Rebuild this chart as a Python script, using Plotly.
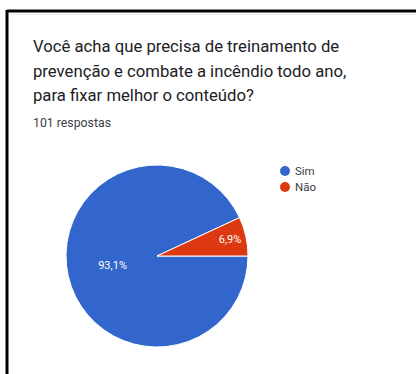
import plotly.graph_objects as go

labels = ["Sim", "Não"]
values = [94, 7]
colors = ["#3366cc", "#dc3912"]
title_lines = [
    "Você acha que precisa de treinamento de",
    "prevenção e combate a incêndio todo ano,",
    "para fixar melhor o conteúdo?",
]
subtitle = "101 respostas"

W, H = 416, 374
cx, cy, r = 157, 256, 91

fig = go.Figure()
fig.add_trace(go.Pie(
    labels=labels, values=values, sort=False, direction="clockwise", rotation=90,
    marker=dict(colors=colors, line=dict(color="white", width=1)),
    texttemplate="%{percent:.1%}", textposition="inside",
    insidetextorientation="horizontal",
    textfont=dict(family="Roboto", size=11, color="white"),
    domain=dict(x=[(cx - r) / W, (cx + r) / W], y=[1 - (cy + r) / H, 1 - (cy - r) / H]),
    showlegend=False, hoverinfo="label+percent",
))

ann = []
for i, line in enumerate(title_lines):
    ann.append(dict(text=line, x=31 / W, y=1 - (46.5 + 24.5 * i) / H, xref="paper", yref="paper",
                    xanchor="left", yanchor="middle", showarrow=False,
                    font=dict(family="Roboto", size=16.7, color="#202124")))
ann.append(dict(text=subtitle, x=31 / W, y=1 - 123 / H, xref="paper", yref="paper",
                xanchor="left", yanchor="middle", showarrow=False,
                font=dict(family="Roboto", size=12.3, color="#3c4043")))

shapes = [
    dict(type="line", xref="paper", yref="paper", x0=7 / W, x1=1, y0=1 - 11 / H, y1=1 - 11 / H,
         line=dict(color="black", width=3)),
    dict(type="line", xref="paper", yref="paper", x0=7 / W, x1=7 / W, y0=1 - 10 / H, y1=0,
         line=dict(color="black", width=3)),
    dict(type="line", xref="paper", yref="paper", x0=10 / W, x1=1, y0=1 - 14.5 / H, y1=1 - 14.5 / H,
         line=dict(color="#e8e8ec", width=1)),
]

# legend: circle markers + labels
for i, (lab, col) in enumerate(zip(labels, colors)):
    yc = 171 + 16 * i
    shapes.append(dict(type="circle", xref="paper", yref="paper",
                       x0=280 / W, x1=290 / W, y0=1 - (yc + 5) / H, y1=1 - (yc - 5) / H,
                       fillcolor=col, line=dict(width=0)))
    ann.append(dict(text=lab, x=293 / W, y=1 - yc / H, xref="paper", yref="paper",
                    xanchor="left", yanchor="middle", showarrow=False,
                    font=dict(family="Roboto", size=11.5, color="#3c4043")))

fig.update_layout(
    width=W, height=H, margin=dict(l=0, r=0, t=0, b=0),
    paper_bgcolor="white", plot_bgcolor="white",
    separators=",.", annotations=ann, shapes=shapes,
)
fig.write_html("out.html")
